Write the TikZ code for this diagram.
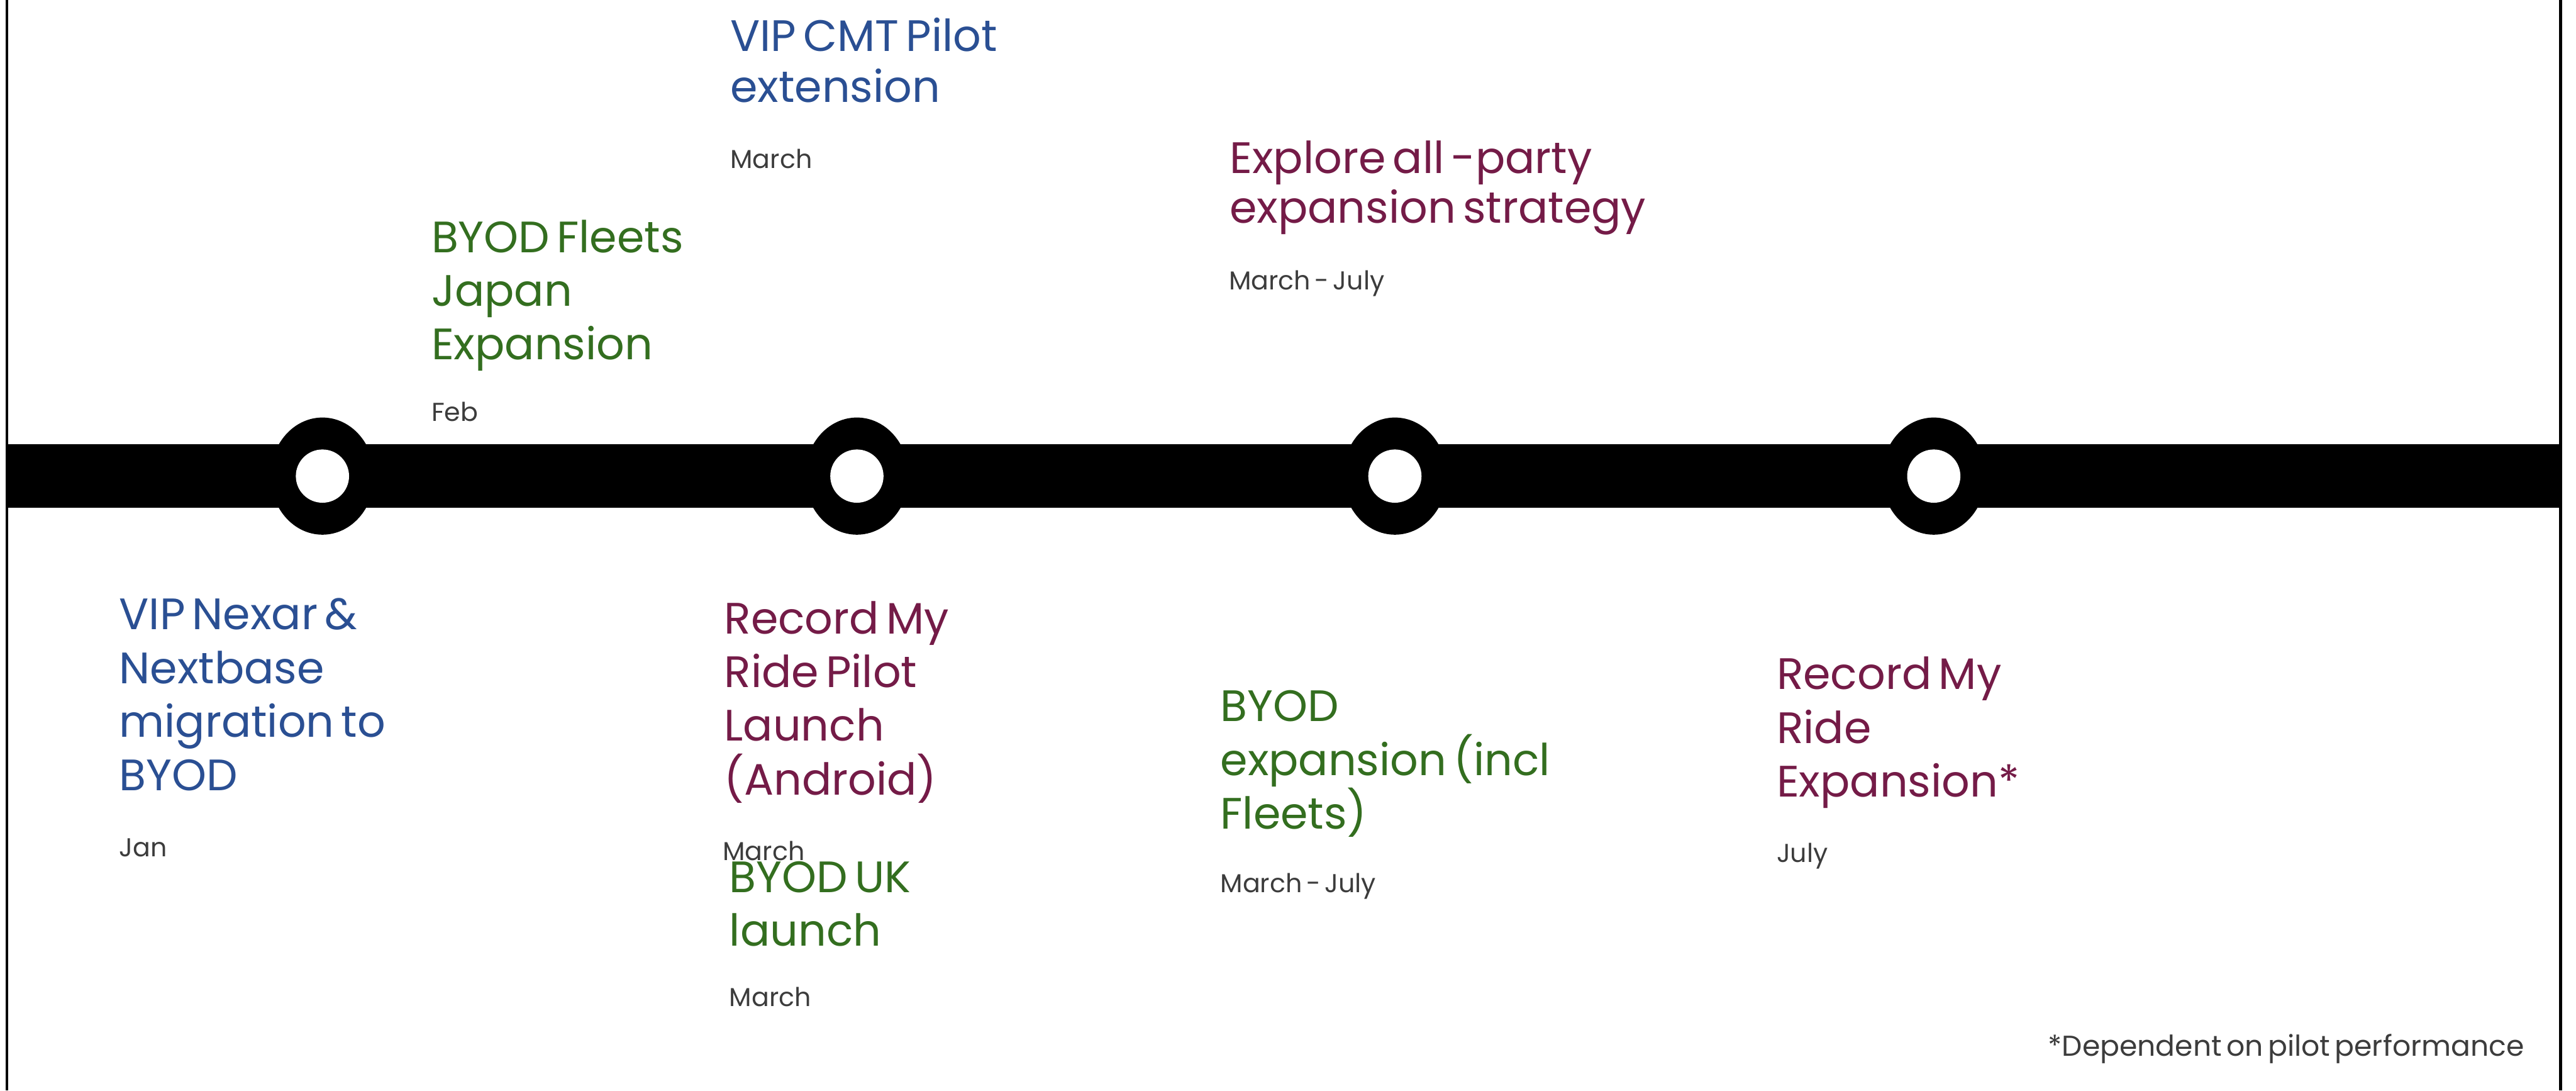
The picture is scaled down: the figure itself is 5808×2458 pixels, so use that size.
\documentclass[tikz,border=0pt]{standalone}
\usepackage{fontspec}
\setmainfont{Poppins}[WordSpace=0.6]
\usetikzlibrary{shapes.geometric}
\definecolor{evblue}{HTML}{2A4F93}
\definecolor{evgreen}{HTML}{336E1F}
\definecolor{evplum}{HTML}{741B47}
\definecolor{evgray}{HTML}{3C3C3C}

\begin{document}
\begin{tikzpicture}[x=0.25pt,y=-0.25pt,
  % multi-line labels are placed by the baseline of their last line
  title/.style={anchor=base west, inner sep=0pt, align=left,
    font=\fontsize{24.8}{30.25}\selectfont},
  datelbl/.style={anchor=base west, inner sep=0pt, text=evgray,
    font=\fontsize{14.6}{17}\selectfont},
  ring/.style={ellipse, fill=black, minimum width=58.5pt, minimum height=66pt, inner sep=0pt},
  hole/.style={circle, fill=white, minimum size=30pt, inner sep=0pt},
  frameline/.style={draw=black}]
\useasboundingbox (0,0) rectangle (5808,2458);

% side frame lines
\coordinate (lt) at (16,0);    \coordinate (lb) at (16,2458);
\coordinate (rt) at (5773,0);  \coordinate (rb) at (5773,2458);
\draw[frameline, line width=1.5pt] (lt) -- (lb);
\draw[frameline, line width=2pt] (rt) -- (rb);

% timeline bar
\coordinate (barL) at (16,1001);
\coordinate (barR) at (5773,1145);
\fill[black] (barL) rectangle (barR);

% milestone rings
\foreach \n/\x in {m1/727, m2/1932, m3/3145, m4/4360}{
  \node[ring] (\n) at (\x,1073) {};
  \node[hole] (\n h) at (\n) {};
}

% upper labels
\node[title, text=evblue] (t1) at (1646,230) {VIP CMT Pilot\\[-1.5pt]extension};
\node[datelbl] (d1) at (1646,379) {March};

\node[title, text=evgreen] (t2) at (972,811) {BYOD Fleets\\Japan\\Expansion};
\node[datelbl] (d2) at (972,949) {Feb};

\node[title, text=evplum] (t3) at (2772,502) {Explore all -party\\[-2.5pt]expansion strategy};
\node[datelbl] (d3) at (2770,653) {March - July};

% lower labels
\node[title, text=evblue] (b1) at (268,1782) {VIP Nexar \&\\Nextbase\\migration to\\BYOD};
\node[datelbl] (e1) at (268,1930) {Jan};

\node[title, text=evplum] (b2) at (1632,1791) {Record My\\Ride Pilot\\Launch\\(Android)};
\node[datelbl] (e2) at (1629,1939) {March};

\node[title, text=evgreen] (b3) at (1644,2132) {BYOD UK\\launch};
\node[datelbl] (e3) at (1644,2268) {March};

\node[title, text=evgreen] (b4) at (2751,1868) {BYOD\\expansion (incl\\Fleets)};
\node[datelbl] (e4) at (2751,2012) {March - July};

\node[title, text=evplum] (b5) at (4005,1796) {Record My\\Ride\\Expansion*};
\node[datelbl] (e5) at (4005,1943) {July};

% footnote
\node[anchor=base east, inner sep=0pt, text=evgray, font=\fontsize{16.2}{19}\selectfont]
  (fn) at (5692,2380) {*Dependent on pilot performance};
\end{tikzpicture}
\end{document}
